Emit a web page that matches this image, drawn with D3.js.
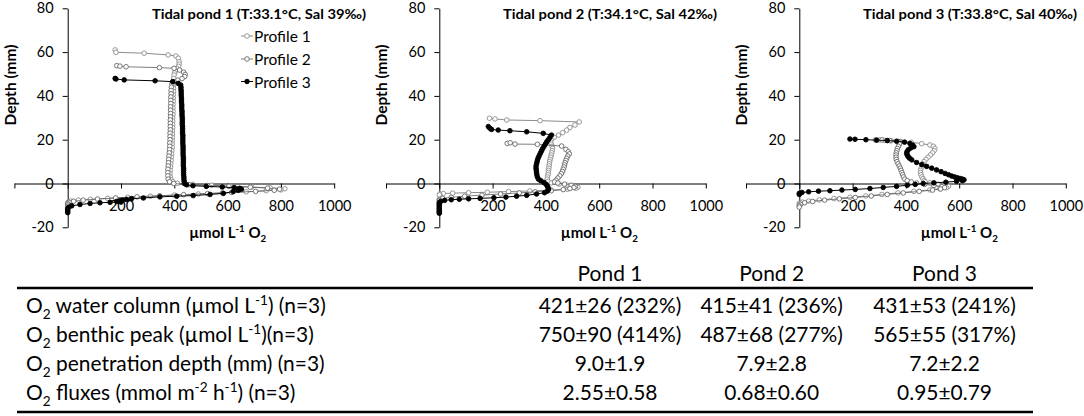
<!DOCTYPE html>
<html><head><meta charset="utf-8">
<script src="https://cdn.jsdelivr.net/npm/d3@7"></script>
<style>body{margin:0;background:#fff} svg{display:block}</style>
</head><body>
<svg id="chart" width="1084" height="416"></svg>
<script>
// ---------- DATA ----------
const pondTitles = ["Tidal pond 1 (T:33.1°C, Sal 39‰)", "Tidal pond 2 (T:34.1°C, Sal 42‰)", "Tidal pond 3 (T:33.8°C, Sal 40‰)"];
const profileNames = ["Profile 1", "Profile 2", "Profile 3"];
const xTickValues = [-200, 0, 200, 400, 600, 800, 1000];
const xTickLabels = ["", "", "200", "400", "600", "800", "1000"];
const yTickValues = [-20, 0, 20, 40, 60, 80];
const yTickLabels = ["-20", "0", "20", "40", "60", "80"];
const yAxisTitle = "Depth (mm)";
const xAxisTitleParts = [["µmol L", ""], ["-1", "sup"], [" O", ""], ["2", "sub"]];

// [O2 (µmol/L), depth (mm)]
const pond1Profile1 = [[178,61.0],[181,59.9],[287,59.5],[377,58.7],[406,58.2],[415,57.2],[418,55.6],[418,54.5],[416,53.5],[411,52.5],[405,51.5],[401,50.5],[399,49.5],[398,48],[398,46.5],[397,45],[397,43.5],[397,42],[396,40.5],[396,39],[396,37.5],[395,36],[395,34.5],[395,33],[395,31.5],[394,30],[394,28.5],[394,27],[394,25.5],[393,24],[393,22.5],[393,21],[392,19.5],[392,18],[392,16.5],[391,15],[390,13.5],[389,12],[388,10.5],[387,9],[386,7.5],[385,6],[384,4.5],[385,3],[388,1.8],[395,0.8],[412,0.1],[470,-0.4],[540,-0.8],[610,-1.2],[690,-1.6],[760,-2.0],[815,-2.4],[800,-2.9],[745,-3.3],[670,-3.8],[580,-4.3],[490,-4.8],[400,-5.3],[310,-5.8],[225,-6.3],[150,-6.8],[85,-7.2],[40,-7.6],[12,-8.0],[2,-8.5],[0,-9.0]];
const pond1Profile2 = [[184,53.8],[196,53.6],[219,53.3],[344,52.9],[399,52.6],[420,51.8],[435,50.8],[441,49.8],[439,48.8],[429,47.9],[413,47.2],[399,46.5],[391,45.5],[389,44],[388,42.5],[388,41],[387,39.5],[387,38],[387,36.5],[386,35],[386,33.5],[386,32],[386,30.5],[385,29],[385,27.5],[385,26],[385,24.5],[384,23],[384,21.5],[384,20],[383,18.5],[383,17],[382,15.5],[381,14],[380,12.5],[379,11],[378,9.5],[377,8],[376,6.5],[376,5],[376,3.5],[377,2],[382,0.8],[398,0],[455,-0.5],[525,-0.9],[605,-1.3],[685,-1.7],[750,-2.1],[795,-2.6],[775,-3.1],[705,-3.6],[615,-4.1],[525,-4.6],[435,-5.1],[345,-5.6],[260,-6.1],[180,-6.6],[112,-7.1],[58,-7.6],[22,-8.1],[5,-8.6],[0,-9.2],[0,-9.8],[0,-10.4]];
const pond1Profile3 = [[178,48.0],[181,47.7],[212,47.3],[328,46.9],[394,46.5],[415,45.7],[424,45],[425,44],[425,43],[426,42],[426,41],[426,40],[427,39],[427,38],[427,37],[428,36],[428,35],[428,34],[429,33],[429,32],[429,31],[430,30],[430,29],[430,28],[430,27],[431,26],[431,25],[431,24],[431,23],[432,22],[432,21],[432,20],[432,19],[432,18],[433,17],[433,16],[433,15],[433,14],[433,13],[434,12],[434,11],[434,10],[434,9],[434,8],[435,7],[435,6],[435,5],[435,4],[436,3],[436,2],[437,1],[438,0],[446,-0.6],[470,-1.0],[520,-1.3],[580,-1.6],[625,-1.9],[645,-2.2],[652,-2.6],[640,-3.1],[621,-3.7],[584,-4.5],[534,-5.0],[471,-5.5],[409,-5.8],[346,-6.1],[284,-6.6],[240,-6.9],[221,-7.3],[205,-7.6],[195,-7.9],[184,-8.2],[200,-8.5],[159,-8.6],[121,-8.8],[84,-9.1],[46,-9.6],[15,-10.2],[3,-10.9],[0,-11.5],[0,-12.1],[0,-12.7],[0,-13.3]];

const pond2Profile1 = [[188,29.8],[209,29.5],[253,29.0],[378,28.7],[525,28.1],[509,26.7],[490,25.6],[478,24.4],[463,23.2],[447,22.1],[431,21.1],[420,20],[418,19],[420,18],[423,17],[425,16],[424,15],[422,14],[420,13],[418,12],[416,11],[414,10],[413,9],[412,8],[411,7],[410,6],[409,5],[408,4],[406,3],[405,2],[408,1],[420,0.3],[450,-0.3],[480,-0.8],[505,-1.2],[520,-1.7],[512,-2.2],[480,-2.6],[420,-3.0],[340,-3.4],[260,-3.7],[180,-4.0],[110,-4.2],[50,-4.4],[15,-4.6],[2,-4.8],[0,-5.2]];
const pond2Profile2 = [[255,18.3],[266,18.6],[284,18.0],[368,17.9],[459,17.1],[475,15.6],[484,14.5],[488,13.5],[482,12.5],[478,11.5],[475,10.5],[472,9.5],[470,8.5],[468,7.5],[465,6.5],[462,5.5],[458,4.5],[452,3.5],[445,2.5],[438,1.5],[432,0.7],[445,0.2],[470,-0.3],[495,-0.8],[510,-1.3],[505,-1.8],[490,-2.3],[465,-2.8],[420,-3.3],[360,-3.8],[300,-4.3],[230,-4.8],[160,-5.3],[95,-5.8],[45,-6.3],[12,-6.8],[0,-7.3],[0,-7.8]];
const pond2Profile3 = [[184,26.0],[190,25.2],[196,24.7],[221,24.4],[265,24.1],[328,23.6],[390,22.9],[421,22.1],[415,21],[409,20],[403,19],[398,18],[393,17],[388,16],[384,15],[380,14],[376,13],[372,12],[369,11],[367,10],[365,9],[363,8],[363,7],[364,6],[365,5],[366,4],[368,3],[372,2],[380,1.3],[392,0.5],[400,-0.3],[405,-1.1],[408,-1.8],[410,-2.7],[405,-3.5],[395,-4.2],[365,-4.8],[328,-5.4],[290,-5.8],[250,-6.2],[205,-6.5],[153,-6.8],[110,-7.0],[75,-7.2],[45,-7.4],[20,-7.7],[5,-8.2],[0,-8.7],[0,-9.2],[0,-9.7],[0,-10.2],[0,-10.7],[0,-11.2],[0,-11.7],[0,-12.2],[0,-12.7],[0,-13.2],[0,-13.6]];

const pond3Profile1 = [[285,19.9],[300,19.9],[320,19.7],[345,19.5],[380,19.2],[420,18.8],[459,18.2],[490,17.6],[503,17.0],[509,16.0],[506,15.0],[500,14.0],[492,13.0],[483,12.0],[475,11.0],[468,10.0],[463,9.0],[460,8.0],[457,7.0],[455,6.0],[455,5.0],[457,4.0],[460,3.0],[464,2.2],[468,1.4],[472,0.8],[490,0.3],[520,-0.3],[545,-0.8],[560,-1.3],[552,-1.9],[528,-2.4],[490,-2.9],[430,-3.6],[370,-4.3],[310,-5.0],[250,-5.7],[190,-6.3],[130,-6.9],[75,-7.5],[35,-8.0],[12,-8.5],[0,-9.0],[0,-9.5]];
const pond3Profile2 = [[310,19.9],[340,19.6],[372,19.2],[378,18.8],[376,18],[372,17],[368,16],[366,15],[364,14],[363,13],[363,12],[364,11],[367,10],[371,9],[375,8],[379,7],[382,6],[385,5],[388,4],[391,3],[396,2],[405,1.3],[420,0.7],[440,0.2],[470,-0.4],[505,-0.9],[535,-1.4],[545,-1.9],[530,-2.5],[500,-3.0],[450,-3.6],[390,-4.3],[330,-5.0],[270,-5.7],[210,-6.4],[150,-7.0],[95,-7.6],[50,-8.2],[20,-8.8],[5,-9.5],[0,-10.2],[0,-10.8]];
const pond3Profile3 = [[190,20.3],[209,20.2],[250,20.0],[290,19.8],[330,19.6],[365,19.3],[395,18.9],[415,18.3],[425,17.6],[430,16.8],[418,16.2],[409,15.4],[404,14.5],[403,13.7],[405,13.0],[409,12.2],[414,11.5],[422,10.8],[440,9.6],[460,8.6],[478,7.8],[497,7.0],[515,6.2],[532,5.4],[547,4.6],[560,4.0],[572,3.4],[583,3.0],[593,2.6],[603,2.3],[612,2.0],[618,1.7],[612,1.3],[590,1.0],[550,0.6],[505,0.3],[465,0],[435,-0.4],[405,-0.8],[365,-1.3],[315,-1.8],[265,-2.3],[210,-2.7],[160,-3.0],[115,-3.3],[72,-3.5],[35,-3.8],[10,-4.1],[0,-4.5],[0,-5.0]];

const tableHeader = ["Pond 1", "Pond 2", "Pond 3"];
const rowLabelParts = [
  [["O",""],["2","sub"],[" water column (µmol L",""],["-1","sup"],[") (n=3)",""]],
  [["O",""],["2","sub"],[" benthic peak (µmol L",""],["-1","sup"],[")(n=3)",""]],
  [["O",""],["2","sub"],[" penetration depth (mm) (n=3)",""]],
  [["O",""],["2","sub"],[" fluxes (mmol m",""],["-2","sup"],[" h",""],["-1","sup"],[") (n=3)",""]]
];
const pond1Values = ["421±26 (232%)", "750±90 (414%)", "9.0±1.9", "2.55±0.58"];
const pond2Values = ["415±41 (236%)", "487±68 (277%)", "7.9±2.8", "0.68±0.60"];
const pond3Values = ["431±53 (241%)", "565±55 (317%)", "7.2±2.2", "0.95±0.79"];

// ---------- LAYOUT ----------
const FONT = "Lato, 'Open Sans', sans-serif";
const svg = d3.select("#chart");
const panelAxisX = [67.7, 439.3, 799.3];
const titleX = [152, 503, 863];
const pxPer200 = 53.3;
const yTop = 8.3, yBottom = 227.3;

const ponds = [
  [pond1Profile1, pond1Profile2, pond1Profile3],
  [pond2Profile1, pond2Profile2, pond2Profile3],
  [pond3Profile1, pond3Profile2, pond3Profile3]
];
const styles = [
  {line: "#6e6e6e", lw: 0.8, mfill: "#fff", mstroke: "#8c8c8c"},
  {line: "#5e5e5e", lw: 0.8, mfill: "#fff", mstroke: "#666666"},
  {line: "#000", lw: 1.0, mfill: "#000", mstroke: "#000"}
];
const R = 2.3;

function rich(textSel, parts, fs) {
  let shift = 0;
  parts.forEach(([t, type]) => {
    const ts = textSel.append("tspan").text(t);
    const target = type === "sub" ? fs * 0.3 : (type === "sup" ? -fs * 0.38 : 0);
    if (target - shift !== 0) ts.attr("dy", target - shift);
    shift = target;
    if (type) ts.attr("font-size", fs * 0.65);
  });
}

const y = d3.scaleLinear().domain([-20, 80]).range([yBottom, yTop]);

ponds.forEach((profiles, pi) => {
  const ax = panelAxisX[pi];
  const x = d3.scaleLinear().domain([-200, 1000]).range([ax - pxPer200, ax + pxPer200 * 5]);
  const g = svg.append("g");

  const xAxis = d3.axisBottom(x).tickValues(xTickValues)
    .tickFormat((d, i) => xTickLabels[i]).tickSizeInner(5).tickSizeOuter(0).tickPadding(12);
  const gx = g.append("g").attr("transform", `translate(0,${y(0)})`).call(xAxis);
  const yAxis = d3.axisLeft(y).tickValues(yTickValues)
    .tickFormat((d, i) => yTickLabels[i]).tickSizeInner(5).tickSizeOuter(0).tickPadding(9);
  const gy = g.append("g").attr("transform", `translate(${ax},0)`).call(yAxis);
  [gx, gy].forEach(a => {
    a.selectAll("path,line").attr("stroke", "#000").attr("stroke-width", 1);
    a.selectAll("text").attr("font-family", FONT).attr("font-size", 14.5).attr("fill", "#000");
  });

  const line = d3.line().x(d => x(d[0])).y(d => y(d[1]));
  profiles.forEach((data, si) => {
    const st = styles[si];
    g.append("path").datum(data).attr("d", line).attr("fill", "none")
      .attr("stroke", st.line).attr("stroke-width", st.lw);
    g.append("g").selectAll("circle").data(data).join("circle")
      .attr("cx", d => x(d[0])).attr("cy", d => y(d[1])).attr("r", R)
      .attr("fill", st.mfill).attr("stroke", st.mstroke).attr("stroke-width", 0.9);
  });

  g.append("text").attr("x", titleX[pi]).attr("y", 18.5)
    .attr("font-family", FONT).attr("font-weight", "bold").attr("font-size", 14)
    .attr("textLength", 214).attr("lengthAdjust", "spacingAndGlyphs")
    .attr("fill", "#000").text(pondTitles[pi]);

  g.append("text").attr("transform", `translate(${ax - 58},85) rotate(-90)`)
    .attr("text-anchor", "middle").attr("dominant-baseline", "central")
    .attr("font-family", FONT).attr("font-weight", "bold").attr("font-size", 15.5)
    .attr("fill", "#000").text(yAxisTitle);

  const xt = g.append("text").attr("x", ax + 160).attr("y", 237.5).attr("text-anchor", "middle")
    .attr("font-family", FONT).attr("font-weight", "bold").attr("font-size", 15).attr("fill", "#000");
  rich(xt, xAxisTitleParts, 15);

  if (pi === 0) {
    const legY = [36, 59, 81.5];
    profileNames.forEach((name, si) => {
      const st = styles[si];
      const lg = g.append("g");
      lg.append("line").attr("x1", 241).attr("x2", 253).attr("y1", legY[si]).attr("y2", legY[si])
        .attr("stroke", st.line).attr("stroke-width", st.lw);
      lg.append("circle").attr("cx", 247).attr("cy", legY[si]).attr("r", R)
        .attr("fill", st.mfill).attr("stroke", st.mstroke).attr("stroke-width", 0.9);
      lg.append("text").attr("x", 254).attr("y", legY[si]).attr("dominant-baseline", "central")
        .attr("font-family", FONT).attr("font-size", 15.5).attr("fill", "#000").text(name);
    });
  }
});

// ---------- TABLE ----------
const tg = svg.append("g");
let probe = tg.append("text").attr("font-family", FONT).attr("font-size", 20);
rich(probe, rowLabelParts[0], 20);
const fsT = 20 * 300 / probe.node().getComputedTextLength();
probe.remove();

const colX = [610, 771.7, 944.5];
const rowBase = [312.5, 341.5, 370.8, 400];
const cols = [pond1Values, pond2Values, pond3Values];

tg.append("line").attr("x1", 17).attr("x2", 1033).attr("y1", 288).attr("y2", 288)
  .attr("stroke", "#000").attr("stroke-width", 2.6);
tg.append("line").attr("x1", 17).attr("x2", 1033).attr("y1", 412).attr("y2", 412)
  .attr("stroke", "#000").attr("stroke-width", 2.6);

tableHeader.forEach((h, i) => {
  tg.append("text").attr("x", colX[i]).attr("y", 280.5).attr("text-anchor", "middle")
    .attr("font-family", FONT).attr("font-size", fsT).attr("fill", "#000").text(h);
});
rowLabelParts.forEach((parts, r) => {
  const tx = tg.append("text").attr("x", 26).attr("y", rowBase[r])
    .attr("font-family", FONT).attr("font-size", fsT).attr("fill", "#000");
  rich(tx, parts, fsT);
  cols.forEach((vals, c) => {
    tg.append("text").attr("x", colX[c]).attr("y", rowBase[r]).attr("text-anchor", "middle")
      .attr("font-family", FONT).attr("font-size", fsT).attr("fill", "#000").text(vals[r]);
  });
});
</script>
</body></html>
